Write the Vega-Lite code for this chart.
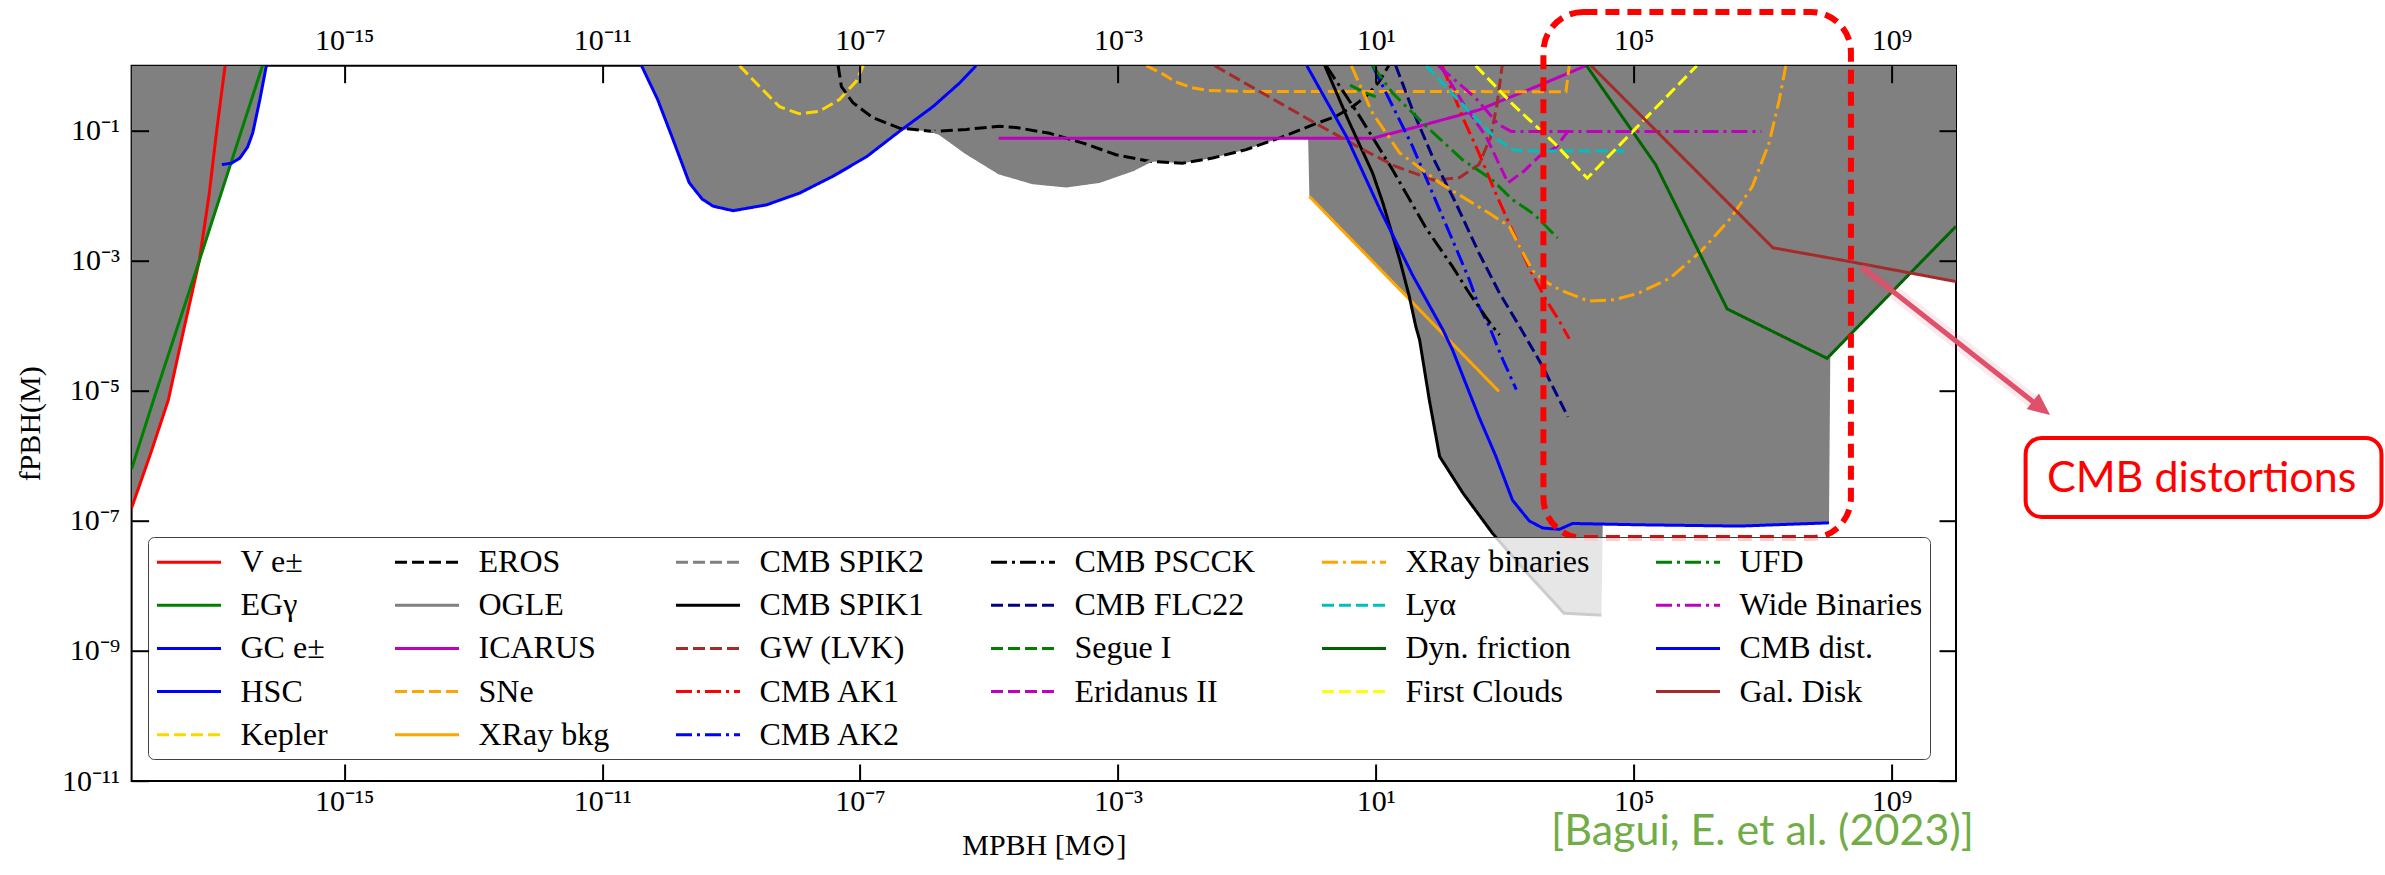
{
  "$schema": "https://vega.github.io/schema/vega-lite/v6.json",
  "width": 1824.4,
  "height": 715.3,
  "autosize": {"type": "none"},
  "padding": {"left": 131.6, "top": 65.7, "right": 429, "bottom": 94},
  "background": "white",
  "config": {
    "view": {"stroke": "black", "strokeWidth": 2}
  },
  "title": {
    "text": "[Bagui, E. et al. (2023)]",
    "orient": "bottom",
    "anchor": "end",
    "frame": "group",
    "color": "#70AD47",
    "font": "Lato",
    "fontSize": 43,
    "fontWeight": "normal",
    "baseline": "alphabetic",
    "offset": -15,
    "dx": 18
  },
  "datasets": {
    "envelope": [
      {"seg": "a", "m": -18.3, "f": -6.8}, {"seg": "a", "m": -18.0, "f": -5.95}, {"seg": "a", "m": -17.73, "f": -5.14},
      {"seg": "a", "m": -17.5, "f": -4.1}, {"seg": "a", "m": -17.25, "f": -3.0}, {"seg": "a", "m": -16.76, "f": -1.5},
      {"seg": "a", "m": -16.62, "f": -1.42}, {"seg": "a", "m": -16.5, "f": -1.25}, {"seg": "a", "m": -16.42, "f": -1.03},
      {"seg": "a", "m": -16.31, "f": -0.52}, {"seg": "a", "m": -16.21, "f": 0},
      {"seg": "b", "m": -10.39, "f": 0}, {"seg": "b", "m": -10.14, "f": -0.52}, {"seg": "b", "m": -9.9, "f": -1.14},
      {"seg": "b", "m": -9.65, "f": -1.8}, {"seg": "b", "m": -9.45, "f": -2.05}, {"seg": "b", "m": -9.28, "f": -2.16},
      {"seg": "b", "m": -8.97, "f": -2.23}, {"seg": "b", "m": -8.45, "f": -2.14}, {"seg": "b", "m": -7.94, "f": -1.96},
      {"seg": "b", "m": -7.42, "f": -1.7}, {"seg": "b", "m": -6.9, "f": -1.4}, {"seg": "b", "m": -6.39, "f": -1.01},
      {"seg": "b", "m": -6.3, "f": -0.98}, {"seg": "b", "m": -5.87, "f": -1.01}, {"seg": "b", "m": -5.77, "f": -1.04},
      {"seg": "b", "m": -5.35, "f": -1.34}, {"seg": "b", "m": -4.84, "f": -1.65}, {"seg": "b", "m": -4.32, "f": -1.8},
      {"seg": "b", "m": -3.8, "f": -1.85}, {"seg": "b", "m": -3.29, "f": -1.78}, {"seg": "b", "m": -2.77, "f": -1.6},
      {"seg": "b", "m": -2.51, "f": -1.47}, {"seg": "b", "m": -2.0, "f": -1.5}, {"seg": "b", "m": -1.53, "f": -1.42},
      {"seg": "b", "m": -1.01, "f": -1.29}, {"seg": "b", "m": -0.49, "f": -1.115}, {"seg": "b", "m": -0.05, "f": -1.115},
      {"seg": "b", "m": -0.03, "f": -2.01}, {"seg": "b", "m": 1.52, "f": -3.57}, {"seg": "b", "m": 1.62, "f": -4.01},
      {"seg": "b", "m": 1.68, "f": -4.22}, {"seg": "b", "m": 1.83, "f": -5.14}, {"seg": "b", "m": 1.99, "f": -6.01},
      {"seg": "b", "m": 2.35, "f": -6.57}, {"seg": "b", "m": 2.81, "f": -7.19}, {"seg": "b", "m": 3.3, "f": -7.75},
      {"seg": "b", "m": 3.92, "f": -8.42}, {"seg": "b", "m": 4.5, "f": -8.45}, {"seg": "b", "m": 4.52, "f": -7.05},
      {"seg": "b", "m": 5.09, "f": -7.06}, {"seg": "b", "m": 6.64, "f": -7.08}, {"seg": "b", "m": 8.03, "f": -7.03},
      {"seg": "b", "m": 8.05, "f": -4.48}, {"seg": "b", "m": 9.29, "f": -3.19}, {"seg": "b", "m": 10.0, "f": -3.32}
    ],
    "bounds": [
      {"s": "V e±", "m": -18.3, "f": -6.8}, {"s": "V e±", "m": -18.0, "f": -5.95}, {"s": "V e±", "m": -17.73, "f": -5.14},
      {"s": "V e±", "m": -17.5, "f": -4.1}, {"s": "V e±", "m": -17.25, "f": -3.0}, {"s": "V e±", "m": -17.1, "f": -2.0},
      {"s": "V e±", "m": -16.98, "f": -1.0}, {"s": "V e±", "m": -16.85, "f": 0},
      {"s": "EGγ", "m": -18.3, "f": -6.2}, {"s": "EGγ", "m": -17.96, "f": -5.14}, {"s": "EGγ", "m": -17.25, "f": -3.0},
      {"s": "EGγ", "m": -16.27, "f": 0},
      {"s": "GC e±", "m": -16.9, "f": -1.52}, {"s": "GC e±", "m": -16.75, "f": -1.5}, {"s": "GC e±", "m": -16.62, "f": -1.42},
      {"s": "GC e±", "m": -16.5, "f": -1.25}, {"s": "GC e±", "m": -16.42, "f": -1.03}, {"s": "GC e±", "m": -16.31, "f": -0.52},
      {"s": "GC e±", "m": -16.21, "f": 0},
      {"s": "HSC", "m": -10.39, "f": 0}, {"s": "HSC", "m": -10.14, "f": -0.52}, {"s": "HSC", "m": -9.9, "f": -1.14},
      {"s": "HSC", "m": -9.65, "f": -1.8}, {"s": "HSC", "m": -9.45, "f": -2.05}, {"s": "HSC", "m": -9.28, "f": -2.16},
      {"s": "HSC", "m": -8.97, "f": -2.23}, {"s": "HSC", "m": -8.45, "f": -2.14}, {"s": "HSC", "m": -7.94, "f": -1.96},
      {"s": "HSC", "m": -7.42, "f": -1.7}, {"s": "HSC", "m": -6.9, "f": -1.4}, {"s": "HSC", "m": -6.39, "f": -1.01},
      {"s": "HSC", "m": -5.87, "f": -0.63}, {"s": "HSC", "m": -5.46, "f": -0.27}, {"s": "HSC", "m": -5.2, "f": 0},
      {"s": "Kepler", "m": -8.87, "f": 0}, {"s": "Kepler", "m": -8.56, "f": -0.32}, {"s": "Kepler", "m": -8.25, "f": -0.63},
      {"s": "Kepler", "m": -7.94, "f": -0.74}, {"s": "Kepler", "m": -7.63, "f": -0.7}, {"s": "Kepler", "m": -7.32, "f": -0.52},
      {"s": "Kepler", "m": -7.06, "f": -0.24}, {"s": "Kepler", "m": -6.95, "f": 0},
      {"s": "EROS", "m": -7.34, "f": 0}, {"s": "EROS", "m": -7.29, "f": -0.32}, {"s": "EROS", "m": -7.11, "f": -0.57},
      {"s": "EROS", "m": -6.8, "f": -0.8}, {"s": "EROS", "m": -6.39, "f": -0.96}, {"s": "EROS", "m": -5.87, "f": -1.01},
      {"s": "EROS", "m": -5.35, "f": -0.98}, {"s": "EROS", "m": -4.84, "f": -0.93}, {"s": "EROS", "m": -4.58, "f": -0.95},
      {"s": "EROS", "m": -4.06, "f": -1.04}, {"s": "EROS", "m": -3.54, "f": -1.19}, {"s": "EROS", "m": -3.03, "f": -1.37},
      {"s": "EROS", "m": -2.51, "f": -1.47}, {"s": "EROS", "m": -2.0, "f": -1.5}, {"s": "EROS", "m": -1.53, "f": -1.42},
      {"s": "EROS", "m": -1.01, "f": -1.29}, {"s": "EROS", "m": -0.49, "f": -1.11}, {"s": "EROS", "m": 0.02, "f": -0.91},
      {"s": "EROS", "m": 0.38, "f": -0.78}, {"s": "EROS", "m": 0.64, "f": -0.63}, {"s": "EROS", "m": 0.85, "f": -0.47},
      {"s": "EROS", "m": 1.05, "f": -0.25}, {"s": "EROS", "m": 1.2, "f": 0},
      {"s": "OGLE", "m": -5.9, "f": -1.0}, {"s": "OGLE", "m": -5.77, "f": -1.04}, {"s": "OGLE", "m": -5.35, "f": -1.34},
      {"s": "OGLE", "m": -4.84, "f": -1.65}, {"s": "OGLE", "m": -4.32, "f": -1.8}, {"s": "OGLE", "m": -3.8, "f": -1.85},
      {"s": "OGLE", "m": -3.29, "f": -1.78}, {"s": "OGLE", "m": -2.77, "f": -1.6}, {"s": "OGLE", "m": -2.51, "f": -1.47},
      {"s": "OGLE", "m": -2.3, "f": -1.4},
      {"s": "ICARUS", "m": -4.85, "f": -1.115}, {"s": "ICARUS", "m": 0.95, "f": -1.115}, {"s": "ICARUS", "m": 1.6, "f": -0.95},
      {"s": "ICARUS", "m": 2.6, "f": -0.68}, {"s": "ICARUS", "m": 3.54, "f": -0.3}, {"s": "ICARUS", "m": 4.26, "f": 0},
      {"s": "SNe", "m": -2.56, "f": 0}, {"s": "SNe", "m": -2.3, "f": -0.13}, {"s": "SNe", "m": -2.1, "f": -0.25},
      {"s": "SNe", "m": -1.85, "f": -0.34}, {"s": "SNe", "m": -1.6, "f": -0.38}, {"s": "SNe", "m": -1.0, "f": -0.395},
      {"s": "SNe", "m": 3.95, "f": -0.4}, {"s": "SNe", "m": 4.0, "f": 0},
      {"s": "XRay bkg", "m": -0.03, "f": -2.01}, {"s": "XRay bkg", "m": 2.91, "f": -5.01},
      {"s": "CMB SPIK1", "m": 0.21, "f": 0}, {"s": "CMB SPIK1", "m": 0.57, "f": -0.83}, {"s": "CMB SPIK1", "m": 0.95, "f": -1.65},
      {"s": "CMB SPIK1", "m": 1.11, "f": -2.11}, {"s": "CMB SPIK1", "m": 1.37, "f": -2.98}, {"s": "CMB SPIK1", "m": 1.52, "f": -3.55},
      {"s": "CMB SPIK1", "m": 1.62, "f": -4.01}, {"s": "CMB SPIK1", "m": 1.68, "f": -4.22}, {"s": "CMB SPIK1", "m": 1.83, "f": -5.14},
      {"s": "CMB SPIK1", "m": 1.99, "f": -6.01}, {"s": "CMB SPIK1", "m": 2.35, "f": -6.57}, {"s": "CMB SPIK1", "m": 2.81, "f": -7.19},
      {"s": "CMB SPIK1", "m": 3.3, "f": -7.75}, {"s": "CMB SPIK1", "m": 3.92, "f": -8.42}, {"s": "CMB SPIK1", "m": 4.5, "f": -8.45},
      {"s": "GW (LVK)", "m": -1.5, "f": 0}, {"s": "GW (LVK)", "m": -0.76, "f": -0.42}, {"s": "GW (LVK)", "m": 0.02, "f": -0.86},
      {"s": "GW (LVK)", "m": 0.8, "f": -1.29}, {"s": "GW (LVK)", "m": 1.31, "f": -1.55}, {"s": "GW (LVK)", "m": 1.9, "f": -1.76},
      {"s": "GW (LVK)", "m": 2.3, "f": -1.72}, {"s": "GW (LVK)", "m": 2.6, "f": -1.52}, {"s": "GW (LVK)", "m": 2.78, "f": -1.1},
      {"s": "GW (LVK)", "m": 2.88, "f": -0.6}, {"s": "GW (LVK)", "m": 2.96, "f": 0},
      {"s": "CMB AK1", "m": 2.03, "f": 0}, {"s": "CMB AK1", "m": 2.35, "f": -0.8}, {"s": "CMB AK1", "m": 2.58, "f": -1.3},
      {"s": "CMB AK1", "m": 2.86, "f": -1.96}, {"s": "CMB AK1", "m": 3.08, "f": -2.45}, {"s": "CMB AK1", "m": 3.4, "f": -3.15},
      {"s": "CMB AK1", "m": 3.64, "f": -3.6}, {"s": "CMB AK1", "m": 3.85, "f": -3.93}, {"s": "CMB AK1", "m": 4.0, "f": -4.2},
      {"s": "CMB AK2", "m": 0.95, "f": 0}, {"s": "CMB AK2", "m": 1.25, "f": -0.6}, {"s": "CMB AK2", "m": 1.57, "f": -1.24},
      {"s": "CMB AK2", "m": 1.88, "f": -1.96}, {"s": "CMB AK2", "m": 2.19, "f": -2.68}, {"s": "CMB AK2", "m": 2.45, "f": -3.29},
      {"s": "CMB AK2", "m": 2.6, "f": -3.7}, {"s": "CMB AK2", "m": 2.76, "f": -4.01}, {"s": "CMB AK2", "m": 2.97, "f": -4.52},
      {"s": "CMB AK2", "m": 3.18, "f": -4.98},
      {"s": "CMB PSCCK", "m": 0.23, "f": 0}, {"s": "CMB PSCCK", "m": 0.75, "f": -0.78}, {"s": "CMB PSCCK", "m": 1.26, "f": -1.6},
      {"s": "CMB PSCCK", "m": 1.78, "f": -2.5}, {"s": "CMB PSCCK", "m": 2.19, "f": -3.09}, {"s": "CMB PSCCK", "m": 2.45, "f": -3.5},
      {"s": "CMB PSCCK", "m": 2.81, "f": -4.01}, {"s": "CMB PSCCK", "m": 2.92, "f": -4.14},
      {"s": "CMB FLC22", "m": 1.31, "f": 0}, {"s": "CMB FLC22", "m": 1.57, "f": -0.68}, {"s": "CMB FLC22", "m": 1.88, "f": -1.4},
      {"s": "CMB FLC22", "m": 2.24, "f": -2.11}, {"s": "CMB FLC22", "m": 2.6, "f": -2.88}, {"s": "CMB FLC22", "m": 2.92, "f": -3.5},
      {"s": "CMB FLC22", "m": 3.23, "f": -4.01}, {"s": "CMB FLC22", "m": 3.59, "f": -4.63}, {"s": "CMB FLC22", "m": 3.98, "f": -5.4},
      {"s": "Segue I", "m": 0.6, "f": -0.3}, {"s": "Segue I", "m": 0.8, "f": -0.4}, {"s": "Segue I", "m": 1.0, "f": -0.48},
      {"s": "Eridanus II", "m": 2.0, "f": 0}, {"s": "Eridanus II", "m": 2.35, "f": -0.57}, {"s": "Eridanus II", "m": 2.71, "f": -1.09},
      {"s": "Eridanus II", "m": 3.05, "f": -1.8}, {"s": "Eridanus II", "m": 3.3, "f": -1.62}, {"s": "Eridanus II", "m": 3.54, "f": -1.39},
      {"s": "Eridanus II", "m": 3.8, "f": -1.25}, {"s": "Eridanus II", "m": 3.97, "f": -1.02},
      {"s": "XRay binaries", "m": 0.62, "f": 0}, {"s": "XRay binaries", "m": 0.95, "f": -0.73}, {"s": "XRay binaries", "m": 1.37, "f": -1.34},
      {"s": "XRay binaries", "m": 1.99, "f": -1.8}, {"s": "XRay binaries", "m": 2.76, "f": -2.27}, {"s": "XRay binaries", "m": 3.07, "f": -2.47},
      {"s": "XRay binaries", "m": 3.23, "f": -2.78}, {"s": "XRay binaries", "m": 3.43, "f": -3.15}, {"s": "XRay binaries", "m": 3.65, "f": -3.33},
      {"s": "XRay binaries", "m": 3.86, "f": -3.45}, {"s": "XRay binaries", "m": 4.3, "f": -3.62}, {"s": "XRay binaries", "m": 4.7, "f": -3.6},
      {"s": "XRay binaries", "m": 5.07, "f": -3.5}, {"s": "XRay binaries", "m": 5.56, "f": -3.27}, {"s": "XRay binaries", "m": 6.05, "f": -2.85},
      {"s": "XRay binaries", "m": 6.5, "f": -2.35}, {"s": "XRay binaries", "m": 6.84, "f": -1.86}, {"s": "XRay binaries", "m": 7.1, "f": -1.19},
      {"s": "XRay binaries", "m": 7.26, "f": -0.52}, {"s": "XRay binaries", "m": 7.36, "f": 0},
      {"s": "Lyα", "m": 1.78, "f": 0}, {"s": "Lyα", "m": 2.5, "f": -0.76}, {"s": "Lyα", "m": 2.88, "f": -1.13},
      {"s": "Lyα", "m": 3.13, "f": -1.29}, {"s": "Lyα", "m": 3.3, "f": -1.31}, {"s": "Lyα", "m": 4.93, "f": -1.31},
      {"s": "Dyn. friction", "m": 4.27, "f": 0}, {"s": "Dyn. friction", "m": 5.34, "f": -1.52}, {"s": "Dyn. friction", "m": 6.45, "f": -3.74},
      {"s": "Dyn. friction", "m": 8.0, "f": -4.5}, {"s": "Dyn. friction", "m": 10.0, "f": -2.47},
      {"s": "First Clouds", "m": 2.55, "f": 0}, {"s": "First Clouds", "m": 3.13, "f": -0.6}, {"s": "First Clouds", "m": 3.78, "f": -1.2},
      {"s": "First Clouds", "m": 4.28, "f": -1.73}, {"s": "First Clouds", "m": 5.98, "f": 0},
      {"s": "UFD", "m": 0.95, "f": 0}, {"s": "UFD", "m": 1.26, "f": -0.42}, {"s": "UFD", "m": 1.78, "f": -0.93},
      {"s": "UFD", "m": 2.35, "f": -1.45}, {"s": "UFD", "m": 2.8, "f": -1.75}, {"s": "UFD", "m": 3.12, "f": -2.06},
      {"s": "UFD", "m": 3.45, "f": -2.28}, {"s": "UFD", "m": 3.64, "f": -2.47}, {"s": "UFD", "m": 3.82, "f": -2.65},
      {"s": "Wide Binaries", "m": 1.97, "f": 0}, {"s": "Wide Binaries", "m": 2.55, "f": -0.5}, {"s": "Wide Binaries", "m": 2.9, "f": -0.9},
      {"s": "Wide Binaries", "m": 3.1, "f": -1.01}, {"s": "Wide Binaries", "m": 6.98, "f": -1.01},
      {"s": "CMB dist.", "m": -0.07, "f": 0}, {"s": "CMB dist.", "m": 0.55, "f": -1.1}, {"s": "CMB dist.", "m": 1.06, "f": -2.2},
      {"s": "CMB dist.", "m": 1.57, "f": -3.22}, {"s": "CMB dist.", "m": 2.04, "f": -4.06}, {"s": "CMB dist.", "m": 2.19, "f": -4.37},
      {"s": "CMB dist.", "m": 2.6, "f": -5.4}, {"s": "CMB dist.", "m": 2.86, "f": -6.0}, {"s": "CMB dist.", "m": 3.12, "f": -6.68},
      {"s": "CMB dist.", "m": 3.38, "f": -7.0}, {"s": "CMB dist.", "m": 3.59, "f": -7.11}, {"s": "CMB dist.", "m": 3.85, "f": -7.13},
      {"s": "CMB dist.", "m": 4.05, "f": -7.04}, {"s": "CMB dist.", "m": 5.09, "f": -7.06}, {"s": "CMB dist.", "m": 6.64, "f": -7.08},
      {"s": "CMB dist.", "m": 8.03, "f": -7.03},
      {"s": "Gal. Disk", "m": 4.34, "f": 0}, {"s": "Gal. Disk", "m": 7.16, "f": -2.8}, {"s": "Gal. Disk", "m": 8.34, "f": -3.01},
      {"s": "Gal. Disk", "m": 10.0, "f": -3.32}
    ],
    "highlight": [{"m_lo": 3.6, "m_hi": 8.37, "f_hi": 0.826, "f_lo": -7.263}],
    "pointer": [{"m0": 8.54, "f0": -3.095, "m1": 11.21, "f1": -5.18, "tip_m": 11.46, "tip_f": -5.37}],
    "note": [{"label": "CMB distortions", "m_lo": 11.08, "m_hi": 16.6, "f_hi": -5.725, "f_lo": -6.94, "m_mid": 13.81, "f_base": -6.55}]
  },
  "layer": [
    {
      "data": {"name": "envelope"},
      "mark": {"type": "area", "color": "#808080", "opacity": 1, "clip": true},
      "encoding": {
        "x": {
          "field": "m", "type": "quantitative",
          "scale": {"domain": [-18.3, 10], "nice": false, "zero": false},
          "axis": {
            "orient": "bottom", "values": [-15, -11, -7, -3, 1, 5, 9],
            "labelExpr": "datum.value==-15?'10⁻¹⁵':datum.value==-11?'10⁻¹¹':datum.value==-7?'10⁻⁷':datum.value==-3?'10⁻³':datum.value==1?'10¹':datum.value==5?'10⁵':'10⁹'",
            "title": "MPBH [M⊙]", "domain": false, "grid": false,
            "tickSize": -17, "tickWidth": 2, "tickColor": "black",
            "labelPadding": 22, "labelBaseline": "top",
            "labelFont": "Liberation Serif", "labelFontSize": 30, "labelColor": "black",
            "labelFlush": false, "labelOverlap": false, "labelBound": false,
            "titleFont": "Liberation Serif", "titleFontSize": 30, "titleFontWeight": "normal", "titleColor": "black",
            "titleY": 73, "titleBaseline": "alphabetic", "zindex": 1
          }
        },
        "y": {
          "field": "f", "type": "quantitative",
          "scale": {"domain": [-11, 0], "nice": false, "zero": false},
          "axis": {
            "orient": "left", "values": [-11, -9, -7, -5, -3, -1],
            "labelExpr": "datum.value==-1?'10⁻¹':datum.value==-3?'10⁻³':datum.value==-5?'10⁻⁵':datum.value==-7?'10⁻⁷':datum.value==-9?'10⁻⁹':'10⁻¹¹'",
            "title": "fPBH(M)", "domain": false, "grid": false,
            "tickSize": -17, "tickWidth": 2, "tickColor": "black",
            "labelPadding": 29,
            "labelFont": "Liberation Serif", "labelFontSize": 30, "labelColor": "black",
            "labelFlush": false, "labelOverlap": false, "labelBound": false,
            "titleFont": "Liberation Serif", "titleFontSize": 30, "titleFontWeight": "normal", "titleColor": "black",
            "titleX": -101, "titleY": 357.6, "titleAngle": -90, "titleAlign": "center", "titleBaseline": "middle",
            "zindex": 1
          }
        },
        "y2": {"datum": 0},
        "detail": {"field": "seg"}
      }
    },
    {
      "data": {"name": "bounds"},
      "mark": {"type": "line", "strokeWidth": 3, "clip": true},
      "encoding": {
        "x": {"field": "m", "type": "quantitative", "scale": {"domain": [-18.3, 10], "nice": false, "zero": false}, "axis": null},
        "y": {"field": "f", "type": "quantitative", "scale": {"domain": [-11, 0], "nice": false, "zero": false}, "axis": null},
        "color": {
          "field": "s", "type": "nominal",
          "scale": {
            "domain": ["V e±", "EGγ", "GC e±", "CMB dist.", "First Clouds", "EROS", "OGLE", "ICARUS", "HSC", "Gal. Disk", "CMB SPIK2", "CMB SPIK1", "GW (LVK)", "SNe", "Kepler", "CMB PSCCK", "CMB FLC22", "Segue I", "CMB AK1", "XRay bkg", "XRay binaries", "Lyα", "Dyn. friction", "Eridanus II", "CMB AK2", "UFD", "Wide Binaries"],
            "range": ["#FF0000", "#008000", "#0000FF", "#0000FF", "#FFFF00", "#000000", "#808080", "#BF00BF", "#0000FF", "#A52A2A", "#808080", "#000000", "#A52A2A", "#FFA500", "#FFD700", "#000000", "#000080", "#008000", "#FF0000", "#FFA500", "#FFA500", "#00BFBF", "#006400", "#BF00BF", "#0000FF", "#008000", "#BF00BF"]
          },
          "legend": {
            "title": null, "orient": "none", "legendX": 16.4, "legendY": 471.3, "columns": 6,
            "symbolType": "M-1,0H3", "symbolSize": 1024, "symbolStrokeWidth": 3,
            "labelFont": "Liberation Serif", "labelFontSize": 32, "labelColor": "black", "labelOffset": 50, "labelLimit": 0,
            "rowPadding": 9.2, "columnPadding": 60, "padding": 7.5, "gridAlign": "each",
            "fillColor": "rgba(255,255,255,0.8)", "strokeColor": "#404040", "cornerRadius": 6
          }
        },
        "strokeDash": {
          "field": "s", "type": "nominal",
          "scale": {
            "domain": ["V e±", "EGγ", "GC e±", "CMB dist.", "First Clouds", "EROS", "OGLE", "ICARUS", "HSC", "Gal. Disk", "CMB SPIK2", "CMB SPIK1", "GW (LVK)", "SNe", "Kepler", "CMB PSCCK", "CMB FLC22", "Segue I", "CMB AK1", "XRay bkg", "XRay binaries", "Lyα", "Dyn. friction", "Eridanus II", "CMB AK2", "UFD", "Wide Binaries"],
            "range": [[1, 0], [1, 0], [1, 0], [1, 0], [12, 5], [12, 5], [1, 0], [1, 0], [1, 0], [1, 0], [12, 5], [1, 0], [12, 5], [12, 5], [12, 5], [16, 5, 3, 5], [12, 5], [12, 5], [16, 5, 3, 5], [1, 0], [16, 5, 3, 5], [12, 5], [1, 0], [12, 5], [16, 5, 3, 5], [16, 5, 3, 5], [16, 5, 3, 5]]
          },
          "legend": {
            "title": null, "orient": "none", "legendX": 16.4, "legendY": 471.3, "columns": 6,
            "symbolType": "M-1,0H3", "symbolSize": 1024, "symbolStrokeWidth": 3,
            "labelFont": "Liberation Serif", "labelFontSize": 32, "labelColor": "black", "labelOffset": 50, "labelLimit": 0,
            "rowPadding": 9.2, "columnPadding": 60, "padding": 7.5, "gridAlign": "each",
            "fillColor": "rgba(255,255,255,0.8)", "strokeColor": "#404040", "cornerRadius": 6
          }
        }
      }
    },
    {
      "data": {"name": "highlight"},
      "mark": {"type": "rect", "filled": false, "color": "#FF0000", "strokeWidth": 6, "strokeDash": [14, 8], "cornerRadius": 40},
      "encoding": {
        "x": {
          "field": "m_lo", "type": "quantitative",
          "scale": {"domain": [-18.3, 10], "nice": false, "zero": false},
          "axis": {
            "orient": "top", "values": [-15, -11, -7, -3, 1, 5, 9],
            "labelExpr": "datum.value==-15?'10⁻¹⁵':datum.value==-11?'10⁻¹¹':datum.value==-7?'10⁻⁷':datum.value==-3?'10⁻³':datum.value==1?'10¹':datum.value==5?'10⁵':'10⁹'",
            "title": null, "domain": false, "grid": false,
            "tickSize": -17, "tickWidth": 2, "tickColor": "black",
            "labelPadding": 33, "labelBaseline": "alphabetic",
            "labelFont": "Liberation Serif", "labelFontSize": 30, "labelColor": "black",
            "labelFlush": false, "labelOverlap": false, "labelBound": false, "zindex": 1
          }
        },
        "x2": {"field": "m_hi"},
        "y": {
          "field": "f_hi", "type": "quantitative",
          "scale": {"domain": [-11, 0], "nice": false, "zero": false},
          "axis": {
            "orient": "right", "values": [-11, -9, -7, -5, -3, -1], "labels": false,
            "title": null, "domain": false, "grid": false,
            "tickSize": -17, "tickWidth": 2, "tickColor": "black", "zindex": 1
          }
        },
        "y2": {"field": "f_lo"}
      }
    },
    {
      "data": {"name": "pointer"},
      "mark": {"type": "rule", "color": "#E0506A", "strokeWidth": 14, "opacity": 0.12},
      "encoding": {
        "x": {"field": "m0", "type": "quantitative", "scale": {"domain": [-18.3, 10], "nice": false, "zero": false}, "axis": null},
        "y": {"field": "f0", "type": "quantitative", "scale": {"domain": [-11, 0], "nice": false, "zero": false}, "axis": null},
        "x2": {"field": "m1"},
        "y2": {"field": "f1"}
      }
    },
    {
      "data": {"name": "pointer"},
      "mark": {"type": "rule", "color": "#E0506A", "strokeWidth": 5},
      "encoding": {
        "x": {"field": "m0", "type": "quantitative", "scale": {"domain": [-18.3, 10], "nice": false, "zero": false}, "axis": null},
        "y": {"field": "f0", "type": "quantitative", "scale": {"domain": [-11, 0], "nice": false, "zero": false}, "axis": null},
        "x2": {"field": "m1"},
        "y2": {"field": "f1"}
      }
    },
    {
      "data": {"name": "pointer"},
      "mark": {"type": "point", "shape": "M0,0L-2,-0.9L-2,0.9Z", "filled": true, "color": "#E0506A", "opacity": 1, "size": 484, "angle": 38.2},
      "encoding": {
        "x": {"field": "tip_m", "type": "quantitative", "scale": {"domain": [-18.3, 10], "nice": false, "zero": false}, "axis": null},
        "y": {"field": "tip_f", "type": "quantitative", "scale": {"domain": [-11, 0], "nice": false, "zero": false}, "axis": null}
      }
    },
    {
      "data": {"name": "note"},
      "mark": {"type": "rect", "fill": "white", "stroke": "#FF0000", "strokeWidth": 4, "cornerRadius": 16},
      "encoding": {
        "x": {"field": "m_lo", "type": "quantitative", "scale": {"domain": [-18.3, 10], "nice": false, "zero": false}, "axis": null},
        "x2": {"field": "m_hi"},
        "y": {"field": "f_hi", "type": "quantitative", "scale": {"domain": [-11, 0], "nice": false, "zero": false}, "axis": null},
        "y2": {"field": "f_lo"}
      }
    },
    {
      "data": {"name": "note"},
      "mark": {"type": "text", "font": "Lato", "fontSize": 43, "color": "#FF0000", "align": "center", "baseline": "alphabetic"},
      "encoding": {
        "x": {"field": "m_mid", "type": "quantitative", "scale": {"domain": [-18.3, 10], "nice": false, "zero": false}, "axis": null},
        "y": {"field": "f_base", "type": "quantitative", "scale": {"domain": [-11, 0], "nice": false, "zero": false}, "axis": null},
        "text": {"field": "label"}
      }
    }
  ],
  "resolve": {"axis": {"x": "independent", "y": "independent"}}
}
